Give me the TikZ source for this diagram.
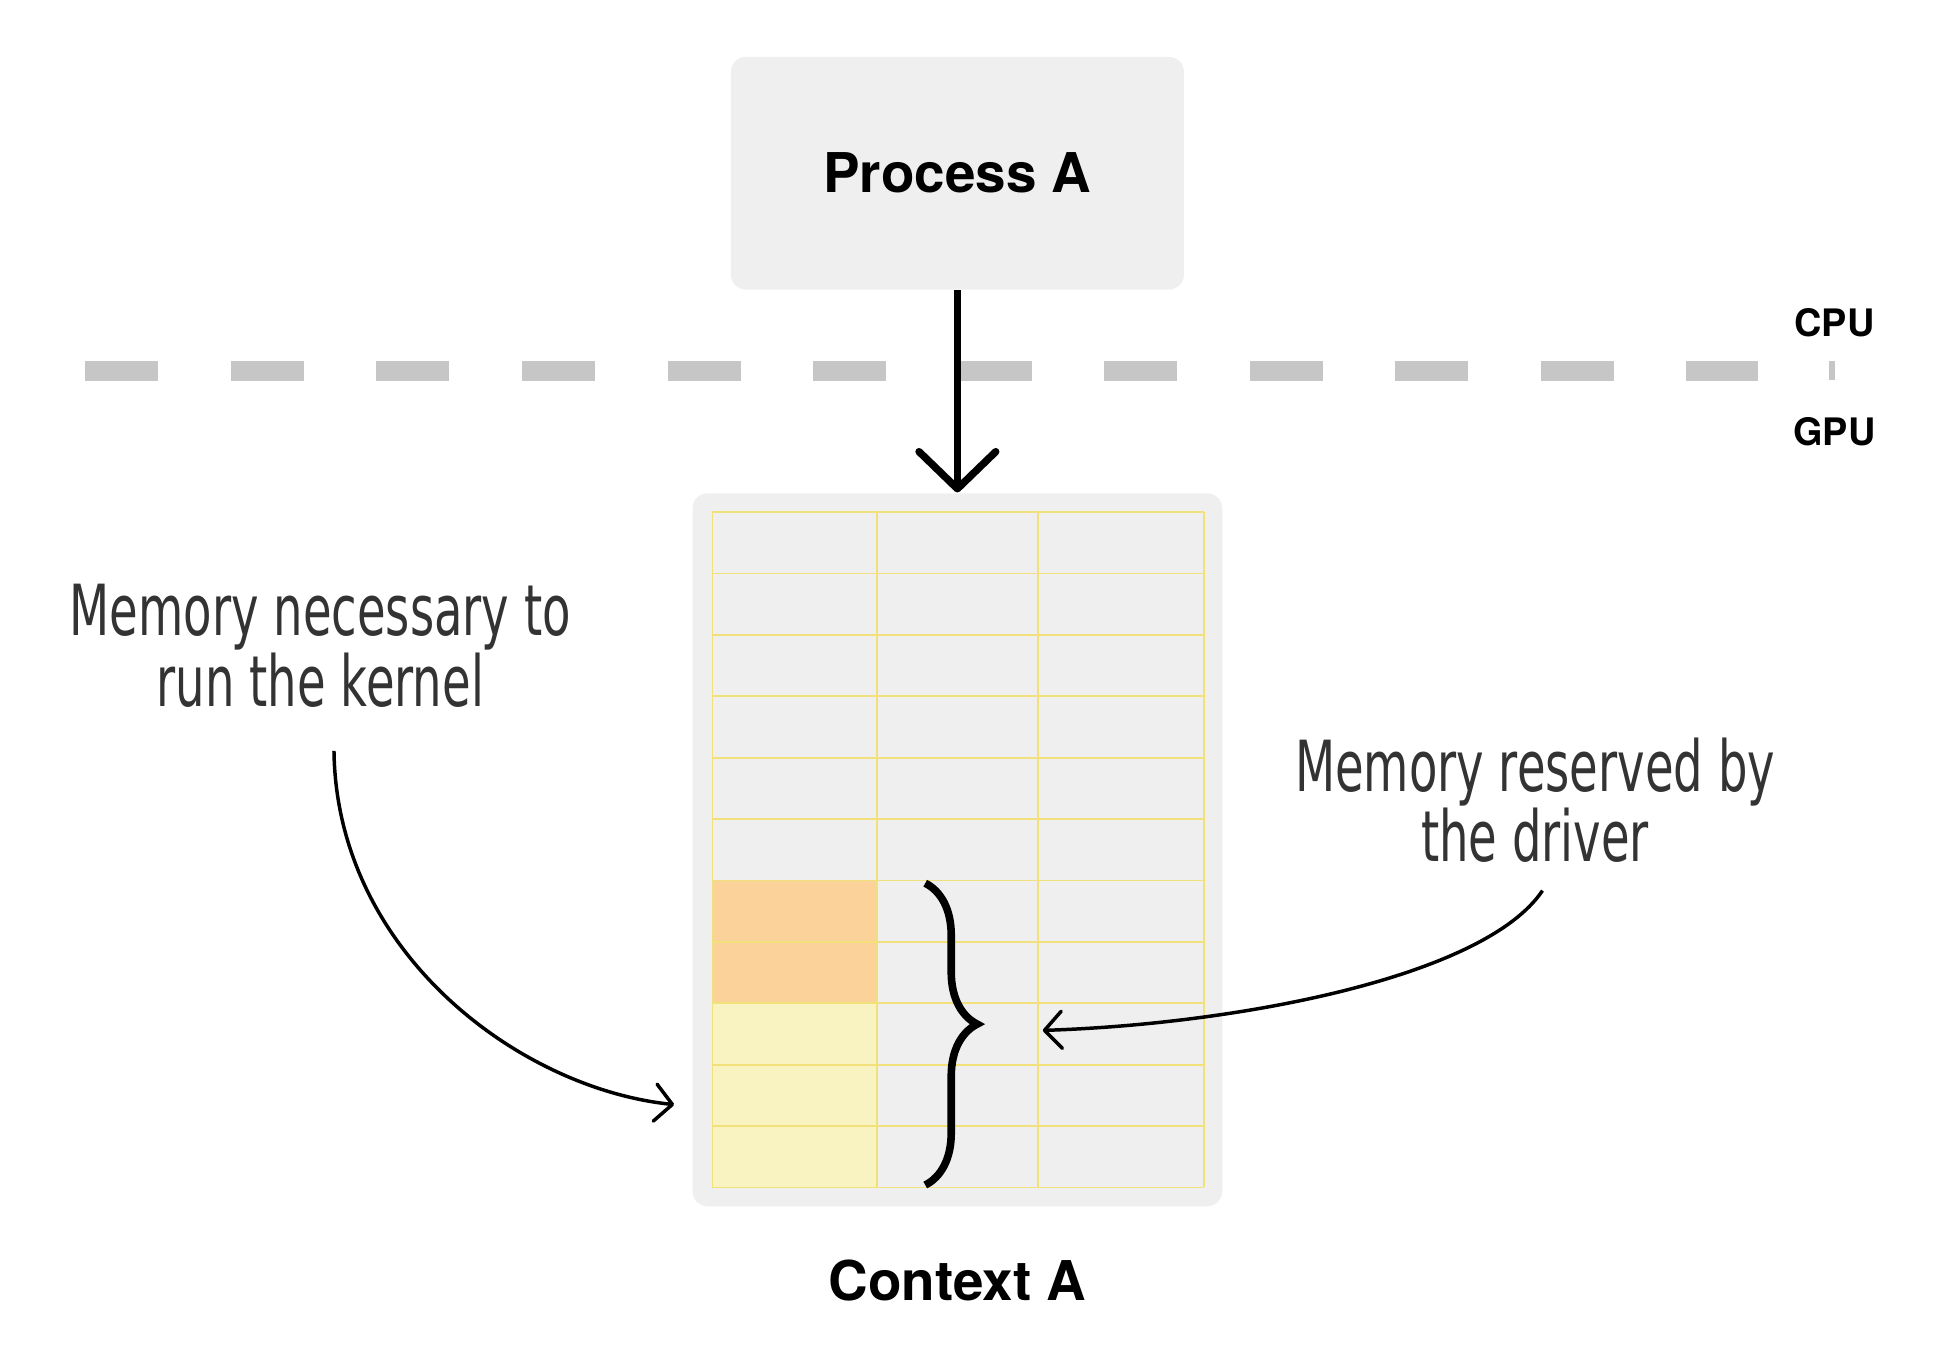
\documentclass[tikz,border=0pt]{standalone}
\usepackage{fontspec}
\setmainfont{TeX Gyre Heros}
\newfontfamily\handfont[FakeStretch=0.66]{DejaVu Sans}
\usetikzlibrary{positioning, arrows.meta, decorations.pathreplacing}
\definecolor{panelgray}{HTML}{EFEFEF}
\definecolor{dashgray}{HTML}{C6C6C6}
\definecolor{cellyellow}{HTML}{F2E17A}
\definecolor{hotcell}{HTML}{FAD29A}
\definecolor{warmcell}{HTML}{F8F3C0}
\definecolor{inkgray}{HTML}{333333}
\tikzset{
panel/.style={
  fill=panelgray,
  draw=none,
  rounded corners=0.12cm
  },
title/.style={font=\fontsize{12.6}{15}\selectfont\bfseries, inner sep=0pt},
side/.style={font=\fontsize{8.7}{10}\selectfont\bfseries, inner sep=0pt},
note/.style={font=\handfont\fontsize{16.2}{16.2}\selectfont, text=inkgray, align=center, inner sep=0pt},
divider/.style={draw=dashgray, line width=0.16cm, dash pattern=on 0.59cm off 0.586cm},
cellline/.style={draw=cellyellow, line width=0.45pt},
bracket/.style={decorate, decoration={brace, amplitude=0.42cm, aspect=0.467}, line width=1.75pt},
bigline/.style={-{Straight Barb[length=0.3cm, width=0.62cm, round]}, line width=1.7pt},
line/.style={-{Straight Barb[length=0.14cm, width=0.3cm, round]}, line width=0.8pt}
}
\begin{document}
\begin{tikzpicture}[x=0.01cm, y=-0.01cm]
\useasboundingbox (0,0) rectangle (1570,1096);
% CPU / GPU boundary
\draw[divider] (69,300) -- (1421,300);
\draw[draw=dashgray, line width=1.2pt] (1481,292) -- (1481,307);
\node[side] (cpu) at (1483,261) {CPU};
\node[side] (gpu) at (1483,349) {GPU};
% process and its context
\node[panel, title, minimum width=3.66cm, minimum height=1.88cm] (procA) at (774,140) {Process A};
\node[panel, minimum width=4.28cm, minimum height=5.76cm] (ctxA) at (774,687) {};
\node[title, below=0.42cm of ctxA] (ctxlabel) {Context A};
\draw[bigline] (procA.south) -- (ctxA.north);
% memory cells
\fill[hotcell] (576,712) rectangle (709,811);
\fill[warmcell] (576,811) rectangle (709,960);
\foreach \r in {0,...,11}
  \draw[cellline] (576,414+\r*49.636) -- (973,414+\r*49.636);
\foreach \c in {576,709,839,973}
  \draw[cellline] (\c,414) -- (\c,960);
\draw[bracket] (748,714) -- (748,958);
% notes
\node[note] (kernelnote) at (259,522) {Memory necessary to\\run the kernel};
\node[note] (drivernote) at (1241,647) {Memory reserved by\\the driver};
\coordinate (kernelfrom) at (270,607);
\coordinate (kernelto) at (545,893);
\coordinate (driverfrom) at (1247,720);
\coordinate (driverto) at (843,833);
\draw[line] (kernelfrom) .. controls (272,770) and (420,880) .. (kernelto);
\draw[line] (driverfrom) .. controls (1200,790) and (1000,828) .. (driverto);
\end{tikzpicture}
\end{document}
